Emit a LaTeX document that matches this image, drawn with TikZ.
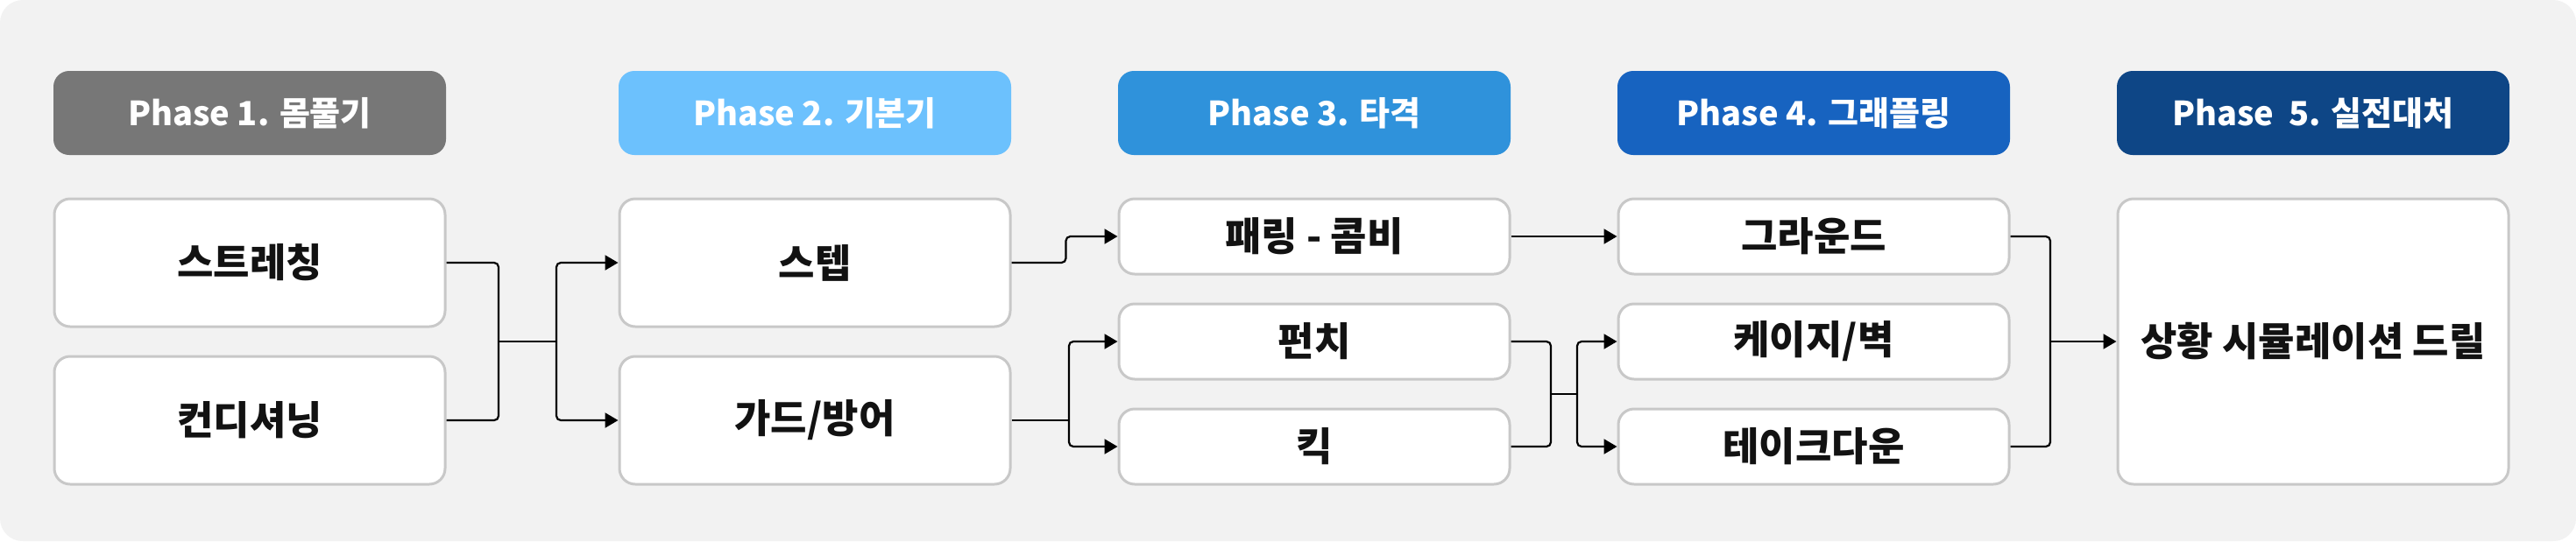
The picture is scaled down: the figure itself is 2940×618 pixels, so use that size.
\documentclass[tikz,border=0pt]{standalone}
\usepackage{fontspec}
\setmainfont{Noto Sans CJK KR}
\usepackage{tikz}
\usetikzlibrary{arrows.meta,positioning,calc}
\definecolor{bgc}{HTML}{F2F2F2}
\definecolor{edgec}{HTML}{C8C8C8}
\definecolor{ph1}{HTML}{777777}
\definecolor{ph2}{HTML}{6CC1FD}
\definecolor{ph3}{HTML}{2F92DB}
\definecolor{ph4}{HTML}{1763C0}
\definecolor{ph5}{HTML}{0E4686}
\tikzset{
  phase/.style  ={rounded corners=9pt,minimum width=224pt,minimum height=48pt,inner sep=0pt,
                  text=white,font=\bfseries\fontsize{19}{22}\selectfont},
  skill/.style  ={draw=edgec,line width=1.5pt,fill=white,rounded corners=9pt,minimum width=223pt,
                  inner sep=0pt,text=black!93,font=\bfseries\fontsize{22.5}{26}\selectfont},
  tall/.style   ={skill,minimum height=73pt},
  short/.style  ={skill,minimum height=43pt},
  wire/.style   ={line width=1.1pt,rounded corners=2.5pt},
  link/.style   ={wire,-{Triangle[length=7.5pt,width=8.5pt]}},
}
\begin{document}
\begin{tikzpicture}[x=0.5pt,y=-0.5pt]
  \useasboundingbox (0,0) rectangle (2940,618);
  \fill[white] (0,0) rectangle (2940,618);
  \fill[bgc,rounded corners=13pt] (0,0) rectangle (2940,618);
  % headers
  \foreach \n/\x/\t in {1/285/{Phase 1. 몸풀기},2/930/{Phase 2. 기본기},3/1500/{Phase 3. 타격},
                        4/2070/{Phase 4. 그래플링},5/2640/{Phase\ \ 5. 실전대처}}
    \node[phase,fill=ph\n] (h\n) at (\x,129){\t};
  % phase 1 + 2
  \node[tall] (stretch) at (285,300){스트레칭};
  \node[tall] (cond)    at (285,480){컨디셔닝};
  \node[tall] (stepn)   at (930,300){스텝};
  \node[tall] (guard)   at (930,480){가드/방어};
  % phase 3 + 4
  \node[short] (parry)    at (1500,270){패링 - 콤비};
  \node[short] (punch)    at (1500,390){펀치};
  \node[short] (kick)     at (1500,510){킥};
  \node[short] (ground)   at (2070,270){그라운드};
  \node[short] (cage)     at (2070,390){케이지/벽};
  \node[short] (takedown) at (2070,510){테이크다운};
  % phase 5
  \node[skill,minimum height=163pt] (drill) at (2640,390){상황 시뮬레이션 드릴};
  % joints
  \coordinate (j12) at (569,390);
  \coordinate (s12) at (635,390);
  \coordinate (s23) at (1220,480);
  \coordinate (j34) at (1770,450);
  \coordinate (s34) at (1800,450);
  \coordinate (j45) at (2340,390);
  % 1 -> 2
  \draw[wire] (stretch.east) -| (j12) |- (cond.east);
  \draw[wire] (j12) -- (s12);
  \draw[link] (s12) |- (stepn.west);
  \draw[link] (s12) |- (guard.west);
  % 2 -> 3
  \draw[link] (stepn.east) -- ++(31pt,0) |- (parry.west);
  \draw[wire] (guard.east) -- (s23);
  \draw[link] (s23) |- (punch.west);
  \draw[link] (s23) |- (kick.west);
  % 3 -> 4
  \draw[link] (parry.east) -- (ground.west);
  \draw[wire] (punch.east) -| (j34) |- (kick.east);
  \draw[wire] (j34) -- (s34);
  \draw[link] (s34) |- (cage.west);
  \draw[link] (s34) |- (takedown.west);
  % 4 -> 5
  \draw[wire] (ground.east) -| (j45) |- (takedown.east);
  \draw[link] (j45) -- (drill.west);
\end{tikzpicture}
\end{document}
